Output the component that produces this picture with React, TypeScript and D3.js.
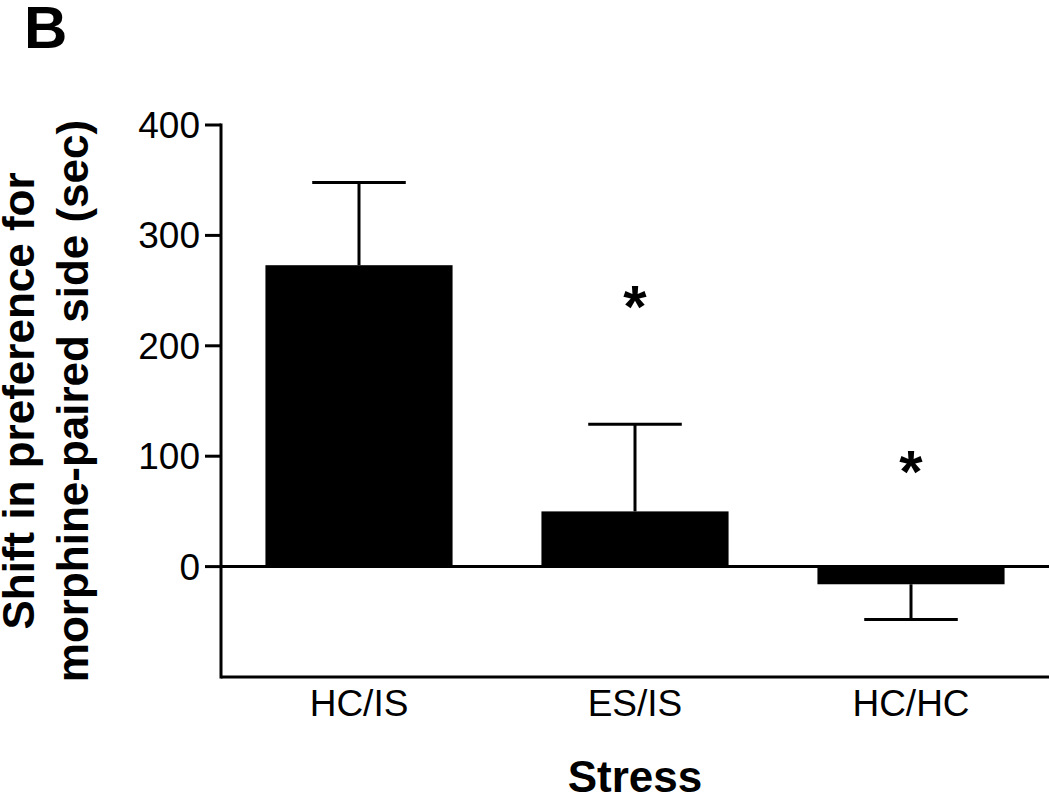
import * as d3 from "d3";

// group labels, means and upper/lower SEM ends
const groups = ["HC/IS", "ES/IS", "HC/HC"];
const means = [273, 50, -16];
const errorEnds = [348, 129, -48];
// where the significance stars sit (in sec), null = none
const starValues = [null, 248, 98];
const yTicks = [0, 100, 200, 300, 400];

const W = 1050;
const H = 798;
const font = "'Liberation Sans', Arial, Helvetica, sans-serif";

export default function App() {
  const x = d3
    .scaleBand()
    .domain(groups)
    .range([221, 1049])
    .paddingInner(0.322)
    .paddingOuter(0.161);

  const y = d3.scaleLinear().domain([-100, 400]).range([677, 125]);

  const bw = x.bandwidth();
  const cap = bw / 2;

  return (
    <svg
      width={W}
      height={H}
      viewBox={`0 0 ${W} ${H}`}
      style={{ position: "absolute", left: 0, top: 0, background: "#fff" }}
    >
      <text x={24} y={48} fontFamily={font} fontWeight="bold" fontSize={60}>
        B
      </text>

      {/* bars */}
      {groups.map((g, i) => (
        <rect
          key={g}
          x={x(g)}
          y={y(Math.max(0, means[i]))}
          width={bw}
          height={Math.abs(y(means[i]) - y(0))}
          fill="#000"
        />
      ))}

      {/* error bars */}
      {groups.map((g, i) => {
        const cx = (x(g) as number) + bw / 2;
        return (
          <g key={g} stroke="#000" strokeWidth={3}>
            <line x1={cx} x2={cx} y1={y(means[i])} y2={y(errorEnds[i])} />
            <line
              x1={cx - cap / 2}
              x2={cx + cap / 2}
              y1={y(errorEnds[i])}
              y2={y(errorEnds[i])}
            />
          </g>
        );
      })}

      {/* zero line */}
      <line x1={221} x2={1049} y1={y(0)} y2={y(0)} stroke="#000" strokeWidth={3} />

      {/* axes */}
      <line x1={221} x2={221} y1={y(400) - 1.5} y2={y(-100) + 1.5} stroke="#000" strokeWidth={3} />
      <line x1={221} x2={1049} y1={y(-100)} y2={y(-100)} stroke="#000" strokeWidth={3} />

      {yTicks.map((t) => (
        <g key={t}>
          <line x1={205} x2={221} y1={y(t)} y2={y(t)} stroke="#000" strokeWidth={3} />
          <text
            x={200}
            y={y(t) + 13}
            textAnchor="end"
            fontFamily={font}
            fontSize={37}
          >
            {t}
          </text>
        </g>
      ))}

      {groups.map((g) => (
        <text
          key={g}
          x={(x(g) as number) + bw / 2}
          y={716}
          textAnchor="middle"
          fontFamily={font}
          fontSize={37}
        >
          {g}
        </text>
      ))}

      {/* significance */}
      {groups.map((g, i) =>
        starValues[i] == null ? null : (
          <text
            key={g}
            x={(x(g) as number) + bw / 2}
            y={y(starValues[i] as number) + 34}
            textAnchor="middle"
            fontFamily={font}
            fontWeight="bold"
            fontSize={60}
          >
            *
          </text>
        )
      )}

      <text
        x={635}
        y={792}
        textAnchor="middle"
        fontFamily={font}
        fontWeight="bold"
        fontSize={44}
      >
        Stress
      </text>

      <g transform={`translate(0, ${y(150)}) rotate(-90)`}>
        <text
          x={0}
          y={34}
          textAnchor="middle"
          fontFamily={font}
          fontWeight="bold"
          fontSize={44}
        >
          Shift in preference for
        </text>
        <text
          x={0}
          y={88}
          textAnchor="middle"
          fontFamily={font}
          fontWeight="bold"
          fontSize={44}
        >
          morphine-paired side (sec)
        </text>
      </g>
    </svg>
  );
}
